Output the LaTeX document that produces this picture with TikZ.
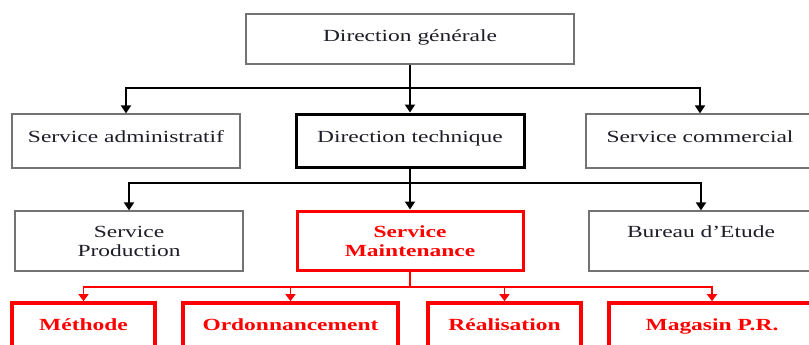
\documentclass[tikz,border=0pt]{standalone}
\usepackage{fontspec}
\setmainfont[FakeStretch=1.38]{Liberation Serif}
\usetikzlibrary{arrows.meta}
\definecolor{boxgray}{RGB}{115,115,115}
\definecolor{txtdark}{RGB}{30,30,40}
\definecolor{orgred}{RGB}{255,0,0}
\begin{document}
\begin{tikzpicture}[x=1pt,y=-1pt,
  graybox/.style={draw=boxgray,line width=1.2pt,rectangle,inner sep=0pt},
  blackbox/.style={draw=black,line width=3pt,rectangle,inner sep=0pt},
  redbox/.style={draw=orgred,line width=3pt,rectangle,inner sep=0pt},
  redboxb/.style={draw=orgred,line width=3.6pt,rectangle,inner sep=0pt},
  txt/.style={font=\fontsize{17pt}{19pt}\selectfont,text=txtdark,inner sep=0pt,anchor=base},
  redtxt/.style={font=\fontsize{17pt}{19pt}\selectfont\bfseries,text=orgred,inner sep=0pt,anchor=base},
  conn/.style={draw=black,line width=1.8pt},
  arrconn/.style={conn,-{Triangle[width=10pt,length=8pt]}},
  redconn/.style={draw=orgred,line width=1.5pt},
  redarr/.style={redconn,-{Triangle[width=10pt,length=7pt]}}
]
\useasboundingbox (0,0) rectangle (809,345);
\fill[white] (0,0) rectangle (809,345);
\clip (0,0) rectangle (809,345);

% boxes
\node[graybox,minimum width=328pt,minimum height=50pt] (dg) at (410,39) {};
\node[graybox,minimum width=228pt,minimum height=54pt] (sa) at (126,141) {};
\node[blackbox,minimum width=228pt,minimum height=53pt] (dt) at (410,140.5) {};
\node[graybox,minimum width=228pt,minimum height=54pt] (sc) at (700,141) {};
\node[graybox,minimum width=228pt,minimum height=60pt] (sp) at (129,241) {};
\node[redbox,minimum width=226pt,minimum height=59pt] (sm) at (410,240.5) {};
\node[graybox,minimum width=224pt,minimum height=60pt] (be) at (701,241) {};
\node[redboxb,minimum width=143pt,minimum height=57pt] (me) at (83.5,331.5) {};
\node[redboxb,minimum width=215pt,minimum height=57pt] (ord) at (290.5,331.5) {};
\node[redboxb,minimum width=153pt,minimum height=57pt] (rea) at (504.5,331.5) {};
\node[redboxb,minimum width=206pt,minimum height=57pt] (mag) at (712,331.5) {};

% texts
\node[txt] (dgt) at (410,42) {Direction générale};
\node[txt] (sat) at (126,142) {Service administratif};
\node[txt] (dtt) at (410,142) {Direction technique};
\node[txt] (sct) at (700,142) {Service commercial};
\node[txt] (spt1) at (129,237) {Service};
\node[txt] (spt2) at (129,256) {Production};
\node[redtxt] (smt1) at (410,237) {Service};
\node[redtxt] (smt2) at (410,256) {Maintenance};
\node[txt] (bet) at (701,237) {Bureau d’Etude};
\node[redtxt] (met) at (83.5,330) {Méthode};
\node[redtxt] (ordt) at (290.5,330) {Ordonnancement};
\node[redtxt] (reat) at (504.5,330) {Réalisation};
\node[redtxt] (magt) at (712,330) {Magasin P.R.};

% connectors level 1
\coordinate (j1) at (410,88);
\draw[conn] (dg.south) -- (j1);
\draw[arrconn] (j1) -| (sa.north);
\draw[arrconn] (j1) -- (dt.north);
\draw[arrconn] (j1) -| (sc.north);

% connectors level 2
\coordinate (j2) at (410,183);
\draw[conn] (dt.south) -- (j2);
\draw[arrconn] (j2) -| (sp.north);
\draw[arrconn] (j2) -- (sm.north);
\draw[arrconn] (j2) -| (be.north);

% connectors level 3
\coordinate (j3) at (410,287);
\draw[redconn] (sm.south) -- (j3);
\draw[redarr] (j3) -| (me.north);
\draw[redarr] (j3) -| (ord.north);
\draw[redarr] (j3) -| (rea.north);
\draw[redarr] (j3) -| (mag.north);
\end{tikzpicture}
\end{document}
